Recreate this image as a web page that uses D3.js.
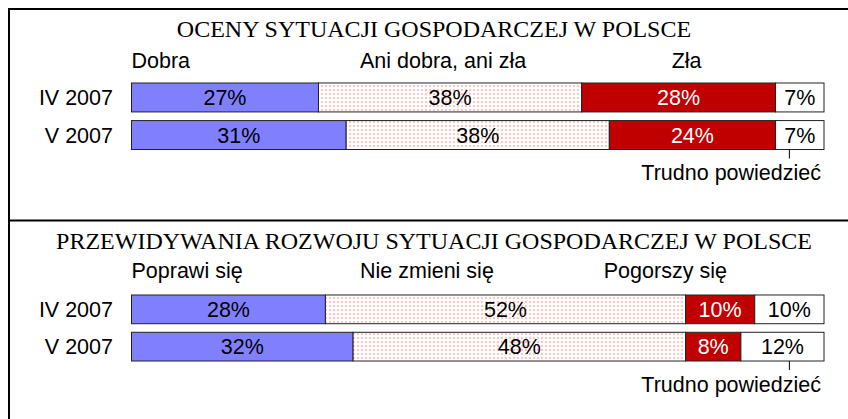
<script src="https://cdn.jsdelivr.net/npm/d3@7"></script>
<style>
    body { margin: 0; background: #fff; }
    .title { font-family: "Liberation Serif", "Times New Roman", serif; font-size: 24px; text-anchor: middle; fill: #000; }
    .cat-label, .row-label, .pct-label, .note { font-family: "Liberation Sans", Arial, sans-serif; font-size: 21.5px; fill: #000; }
    .row-label { text-anchor: end; }
    .pct-label { text-anchor: middle; }
    .note { text-anchor: end; }
    .seg { stroke: #222; stroke-width: 1px; }
</style>
<svg id="chart" width="848" height="419"></svg>
<script>
    // Wiersze (okresy badania)
    const rows = ["IV 2007", "V 2007"];

    // Oceny sytuacji gospodarczej
    const assessTitle = "OCENY SYTUACJI GOSPODARCZEJ W POLSCE";
    const assessCategories = ["Dobra", "Ani dobra, ani zła", "Zła", "Trudno powiedzieć"];
    const assessValues = [[27, 38, 28, 7], [31, 38, 24, 7]];

    // Przewidywania rozwoju sytuacji
    const forecastTitle = "PRZEWIDYWANIA ROZWOJU SYTUACJI GOSPODARCZEJ W POLSCE";
    const forecastCategories = ["Poprawi się", "Nie zmieni się", "Pogorszy się", "Trudno powiedzieć"];
    const forecastValues = [[28, 52, 10, 10], [32, 48, 8, 12]];

    const fills = ["#8080FF", "url(#dots)", "#C00000", "#FFFFFF"];
    const textColors = ["#000", "#000", "#fff", "#000"];

    const svg = d3.select("#chart");

    // wzór kropkowany dla środkowej kategorii
    const pat = svg.append("defs").append("pattern")
        .attr("id", "dots")
        .attr("width", 4).attr("height", 4)
        .attr("patternUnits", "userSpaceOnUse");
    pat.append("rect").attr("width", 4).attr("height", 4).attr("fill", "#fff");
    pat.append("rect").attr("x", 1).attr("y", 1).attr("width", 2).attr("height", 2)
        .attr("fill", "#FFC4C4").attr("shape-rendering", "crispEdges");

    // ramka
    svg.append("line").attr("x1", 9).attr("x2", 9).attr("y1", 8).attr("y2", 419).attr("stroke", "#000").attr("stroke-width", 2);
    svg.append("line").attr("x1", 8).attr("x2", 848).attr("y1", 9).attr("y2", 9).attr("stroke", "#000").attr("stroke-width", 2);
    svg.append("line").attr("x1", 8).attr("x2", 848).attr("y1", 220.5).attr("y2", 220.5).attr("stroke", "#000").attr("stroke-width", 2);

    const x = d3.scaleLinear().domain([0, 100]).range([131.5, 824]);

    function panel(title, categories, values, opts) {
        const g = svg.append("g");
        const y = d3.scaleBand().domain(rows).range(opts.band).paddingInner(0.23);

        g.append("text").attr("class", "title")
            .attr("x", 434).attr("y", opts.titleY).text(title);

        // nagłówki kategorii
        g.selectAll(".cat-label")
            .data(categories.slice(0, 3))
            .enter().append("text")
            .attr("class", "cat-label")
            .attr("x", (d, i) => x(opts.labelAt[i]))
            .attr("y", opts.labelY)
            .text(d => d);

        rows.forEach((r, ri) => {
            const vals = values[ri];
            const ends = d3.cumsum(vals);
            const segs = vals.map((v, i) => ({ v, i, x0: ends[i] - v, x1: ends[i] }));
            const cy = y(r) + y.bandwidth() / 2;

            g.append("text").attr("class", "row-label")
                .attr("x", 113).attr("y", cy + 7.5).text(r);

            g.selectAll(".seg-" + ri)
                .data(segs)
                .enter().append("rect")
                .attr("class", "seg")
                .attr("x", d => x(d.x0))
                .attr("y", y(r))
                .attr("width", d => x(d.x1) - x(d.x0))
                .attr("height", y.bandwidth())
                .attr("fill", d => fills[d.i]);

            g.selectAll(".pct-" + ri)
                .data(segs)
                .enter().append("text")
                .attr("class", "pct-label")
                .attr("x", d => (x(d.x0) + x(d.x1)) / 2)
                .attr("y", cy + 7.5)
                .style("fill", d => textColors[d.i])
                .text(d => d.v + "%");
        });

        // odnośnik "Trudno powiedzieć"
        const bottom = y(rows[1]) + y.bandwidth();
        g.append("line")
            .attr("x1", x(95)).attr("x2", x(95))
            .attr("y1", bottom).attr("y2", bottom + 9)
            .attr("stroke", "#000").attr("stroke-width", 1);
        g.append("text").attr("class", "note")
            .attr("x", x(100) - 3).attr("y", opts.noteY)
            .text(categories[3]);
    }

    panel(assessTitle, assessCategories, assessValues, {
        titleY: 37, labelY: 68, band: [83, 149.5], labelAt: [0, 33, 78], noteY: 180
    });
    panel(forecastTitle, forecastCategories, forecastValues, {
        titleY: 249, labelY: 278, band: [295, 361], labelAt: [0, 33, 68.2], noteY: 391.5
    });
</script>
